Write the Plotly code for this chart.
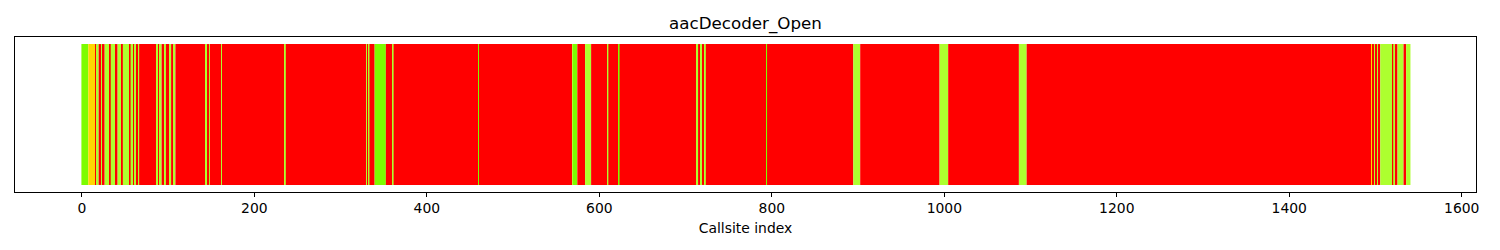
import plotly.graph_objects as go

# Run-length description of the callsite status sequence (index where each run starts)
run_starts = [0, 8, 16, 18, 20, 23, 25, 27, 33, 34, 40, 42, 46, 48, 56, 57, 60, 62, 64, 66, 67,
              87, 89, 91, 93, 96, 98, 102, 104, 107, 109,
              141, 142, 144, 146, 148, 149, 162, 163, 236, 237,
              331, 332, 333, 334, 340, 353, 361, 362,
              460, 461,
              569, 570, 575, 584, 591, 610, 611, 623, 624,
              713, 715, 718, 720, 722, 724,
              794, 795, 895, 903, 995, 1005, 1087, 1096,
              1496, 1497, 1499, 1501, 1503, 1504, 1506, 1520, 1521, 1524, 1526, 1533, 1536]
run_status = ["L", "G", "R", "Y", "R", "Y", "R", "Y", "R", "Y", "R", "Y", "R", "Y", "R", "Y", "R", "Y", "R", "Y", "R",
              "Y", "R", "Y", "R", "Y", "R", "Y", "R", "Y", "R",
              "G", "R", "Y", "R", "Y", "R", "Y", "R", "Y", "R",
              "Y", "R", "Y", "R", "L", "R", "Y", "R",
              "L", "R",
              "Y", "L", "R", "Y", "R", "Y", "R", "L", "R",
              "Y", "R", "Y", "R", "Y", "R",
              "L", "R", "Y", "R", "Y", "R", "Y", "R",
              "G", "R", "Y", "R", "Y", "R", "Y", "R", "Y", "R", "Y", "R", "Y"]
n_callsites = 1541

status_colors = {"R": "#FF0000", "Y": "#ADFF2F", "L": "#7CFC00", "G": "#FFD700"}

ends = run_starts[1:] + [n_callsites]
lengths = [e - s for s, e in zip(run_starts, ends)]
centers = [s - 0.5 + l / 2 for s, l in zip(run_starts, lengths)]
colors = [status_colors[c] for c in run_status]

fig = go.Figure(go.Bar(
    x=centers, y=[1] * len(centers), width=lengths, base=0,
    marker=dict(color=colors, line=dict(width=0)),
    hoverinfo="skip",
))

font = "DejaVu Sans, sans-serif"
fig.update_layout(
    width=1500, height=250,
    margin=dict(l=15, r=24, t=37, b=58),
    plot_bgcolor="white", paper_bgcolor="white",
    showlegend=False,
    font=dict(family=font, color="black", size=13.9),
    title=dict(text="aacDecoder_Open", x=0.5, xanchor="center", xref="paper",
               y=1 - 29 / 250, yanchor="bottom", yref="container",
               font=dict(size=16.7, family=font, color="black")),
    xaxis=dict(range=[-77.5, 1616.5], tickvals=list(range(0, 1601, 200)),
               ticks="outside", ticklen=3.5, tickwidth=1, tickcolor="black",
               showline=True, linecolor="black", linewidth=1, mirror=True,
               showgrid=False, zeroline=False,
               tickfont=dict(size=13.9, family=font, color="black"),
               title=dict(text="Callsite index", standoff=8,
                          font=dict(size=13.9, family=font, color="black"))),
    yaxis=dict(range=[-0.05, 1.05], showticklabels=False, ticks="",
               showline=True, linecolor="black", linewidth=1, mirror=True,
               showgrid=False, zeroline=False),
)

fig.write_html("out.html")
